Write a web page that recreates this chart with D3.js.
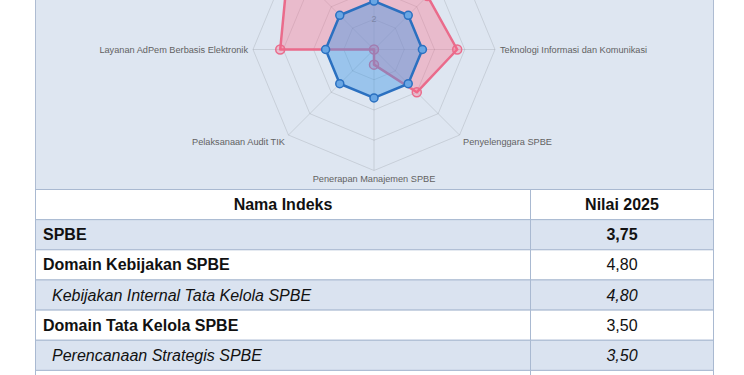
<!DOCTYPE html>
<html lang="id">
<head>
<meta charset="UTF-8">
<title>Indeks SPBE</title>
<script src="https://cdn.jsdelivr.net/npm/d3@7"></script>
<style>
  html, body { margin: 0; padding: 0; background: #fff; }
  svg { display: block; font-family: "Liberation Sans", Arial, sans-serif; }
</style>
</head>
<body>
<svg id="chart" width="744" height="375"></svg>
<script>
// radar axes (clockwise from top)
const aspek = [
  "Kebijakan Internal Tata Kelola SPBE",
  "Perencanaan Strategis SPBE",
  "Teknologi Informasi dan Komunikasi",
  "Penyelenggara SPBE",
  "Penerapan Manajemen SPBE",
  "Pelaksanaan Audit TIK",
  "Layanan AdPem Berbasis Elektronik",
  "Layanan Publik Berbasis Elektronik"
];
const nilai2025 = [4.80, 3.50, 3.75, 3.00, 1.50, 1.00, 4.10, 5.00];
const target = [2.60, 2.60, 2.60, 2.60, 2.60, 2.60, 2.60, 2.60];
const radarTicks = [2, 3, 4, 5];

// table below the chart
const namaIndeks = [
  "SPBE",
  "Domain Kebijakan SPBE",
  "Kebijakan Internal Tata Kelola SPBE",
  "Domain Tata Kelola SPBE",
  "Perencanaan Strategis SPBE",
  "Teknologi Informasi dan Komunikasi"
];
const nilaiIndeks = ["3,75", "4,80", "4,80", "3,50", "3,50", "3,75"];
const levelIndeks = [0, 1, 2, 1, 2, 2];   // 0 = index, 1 = domain, 2 = aspect
const kolom = ["Nama Indeks", "Nilai 2025"];

const svg = d3.select("#chart");
const left = 35.5, right = 713.5, panelBottom = 189.5;

// chart panel
svg.append("rect")
  .attr("x", left).attr("y", -2)
  .attr("width", right - left).attr("height", panelBottom + 2)
  .attr("fill", "#dee6f1")
  .attr("stroke", "#aebcd2").attr("stroke-width", 1);

const cx = 374, cy = 49.5;
const n = aspek.length;
const r = d3.scaleLinear().domain([1, 5]).range([0, 121]);
const angle = d3.scaleLinear().domain([0, n]).range([0, 2 * Math.PI]);
const pt = (i, v) => {
  const a = angle(i) - Math.PI / 2;
  return [cx + r(v) * Math.cos(a), cy + r(v) * Math.sin(a)];
};

const g = svg.append("g");

// grid rings
const line = d3.lineRadial().curve(d3.curveLinearClosed);
radarTicks.forEach(t => {
  g.append("path")
    .attr("transform", `translate(${cx},${cy})`)
    .attr("d", line(aspek.map((d, i) => [angle(i), r(t)])))
    .attr("fill", "none")
    .attr("stroke", "rgba(0,0,0,0.1)");
});

// spokes
g.selectAll("line.spoke")
  .data(aspek)
  .join("line")
  .attr("class", "spoke")
  .attr("x1", cx).attr("y1", cy)
  .attr("x2", (d, i) => pt(i, 5)[0])
  .attr("y2", (d, i) => pt(i, 5)[1])
  .attr("stroke", "rgba(0,0,0,0.1)");

// point labels
g.selectAll("text.lbl")
  .data(aspek)
  .join("text")
  .attr("class", "lbl")
  .attr("x", (d, i) => cx + (r(5) + 5) * Math.cos(angle(i) - Math.PI / 2))
  .attr("y", (d, i) => cy + (r(5) + 5) * Math.sin(angle(i) - Math.PI / 2))
  .attr("text-anchor", (d, i) => {
    const c = Math.cos(angle(i) - Math.PI / 2);
    return c > 0.01 ? "start" : c < -0.01 ? "end" : "middle";
  })
  .attr("dominant-baseline", (d, i) => {
    const s = Math.sin(angle(i) - Math.PI / 2);
    return s > 0.01 ? "hanging" : s < -0.01 ? "auto" : "central";
  })
  .attr("font-size", 9.2)
  .attr("fill", "#626262")
  .text(d => d);

// series
const series = [
  { values: nilai2025, line: "#ea6b8b", fill: "rgba(255,99,132,0.33)", dot: "rgba(255,99,132,0.3)", rr: 4.5 },
  { values: target, line: "#2b70c0", fill: "rgba(60,150,228,0.42)", dot: "#69a6e4", rr: 4 }
];
series.forEach(s => {
  g.append("path")
    .attr("transform", `translate(${cx},${cy})`)
    .attr("d", line(s.values.map((v, i) => [angle(i), r(v)])))
    .attr("fill", s.fill)
    .attr("stroke", s.line)
    .attr("stroke-width", 2.5)
    .attr("stroke-linejoin", "round");
  g.selectAll(null)
    .data(s.values)
    .join("circle")
    .attr("cx", (v, i) => pt(i, v)[0])
    .attr("cy", (v, i) => pt(i, v)[1])
    .attr("r", s.rr)
    .attr("fill", s.dot)
    .attr("stroke", s.line)
    .attr("stroke-width", 1.5);
});

// tick labels (the top one sits under the top point label, so skip it)
g.selectAll("text.tick")
  .data(radarTicks.slice(0, -1))
  .join("text")
  .attr("class", "tick")
  .attr("x", cx)
  .attr("y", d => cy - r(d))
  .attr("text-anchor", "middle")
  .attr("dominant-baseline", "central")
  .attr("font-size", 9)
  .attr("fill", "#7d86a8")
  .text(d => d);

// table
const rowsAll = [-1].concat(d3.range(namaIndeks.length));
const y = d3.scaleBand().domain(rowsAll).range([panelBottom, panelBottom + rowsAll.length * 30.15]);
const colSplit = 530.5;
const tbl = svg.append("g");

const row = tbl.selectAll("g.row")
  .data(rowsAll)
  .join("g")
  .attr("class", "row")
  .attr("transform", d => `translate(0,${y(d)})`);

row.append("rect")
  .attr("x", left).attr("width", right - left)
  .attr("height", y.bandwidth())
  .attr("fill", d => (d >= 0 && d % 2 === 0) ? "#dae3f0" : "#ffffff")
  .attr("stroke", "#a9b9d1").attr("stroke-width", 1);

row.append("line")
  .attr("x1", colSplit).attr("x2", colSplit)
  .attr("y1", 0).attr("y2", y.bandwidth())
  .attr("stroke", "#a9b9d1");

row.append("text")
  .attr("x", d => d < 0 ? (left + colSplit) / 2 : (levelIndeks[d] === 2 ? 52 : 43))
  .attr("y", y.bandwidth() / 2)
  .attr("dy", "0.35em")
  .attr("text-anchor", d => d < 0 ? "middle" : "start")
  .attr("font-size", 16)
  .attr("font-weight", d => (d < 0 || levelIndeks[d] < 2) ? "bold" : "normal")
  .attr("font-style", d => (d >= 0 && levelIndeks[d] === 2) ? "italic" : "normal")
  .attr("fill", "#111")
  .text(d => d < 0 ? kolom[0] : namaIndeks[d]);

row.append("text")
  .attr("x", (colSplit + right) / 2)
  .attr("y", y.bandwidth() / 2)
  .attr("dy", "0.35em")
  .attr("text-anchor", "middle")
  .attr("font-size", 16)
  .attr("font-weight", d => (d <= 0) ? "bold" : "normal")
  .attr("font-style", d => (d >= 0 && levelIndeks[d] === 2) ? "italic" : "normal")
  .attr("fill", "#111")
  .text(d => d < 0 ? kolom[1] : nilaiIndeks[d]);
</script>
</body>
</html>
